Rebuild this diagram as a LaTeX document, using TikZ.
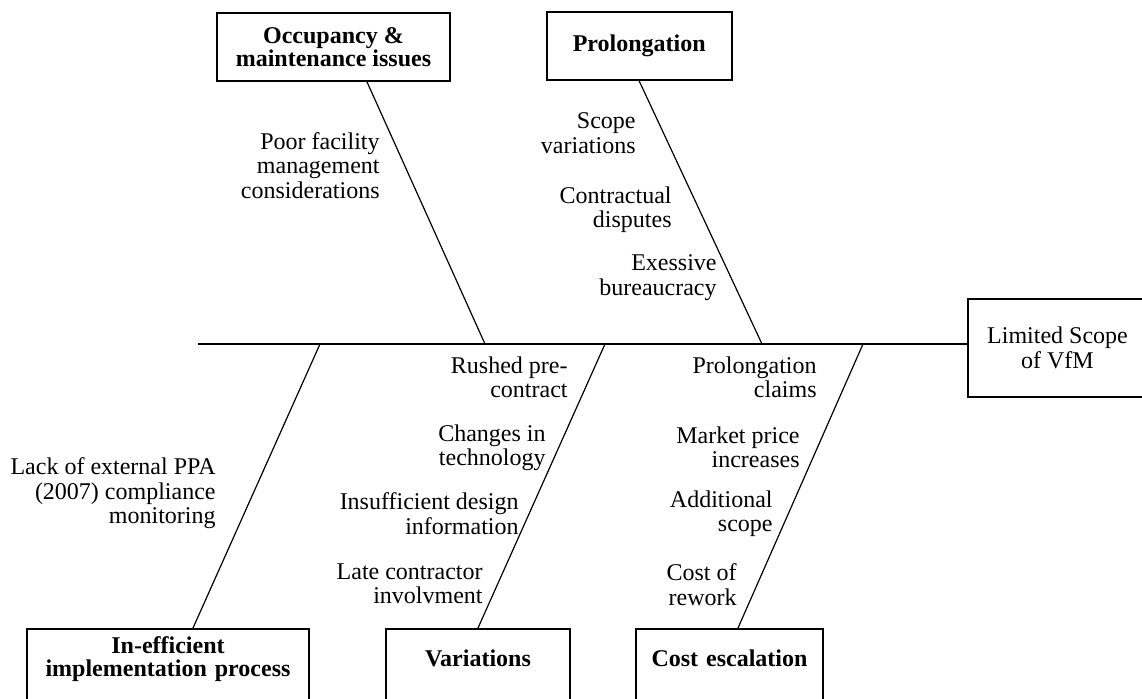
\documentclass[tikz,border=0pt]{standalone}
\usepackage{fontspec}
\setmainfont{Liberation Serif}
\usepackage{tikz}
\tikzset{
    cause-box/.style = {draw=black, fill=white, line width=0.9pt, rectangle, inner sep=0pt, align=center, font=\fontsize{12}{11.5}\selectfont\bfseries},
    bottom-box/.style = {cause-box, anchor=north, text depth=40pt},
    effect-box/.style = {draw=black, fill=white, line width=0.9pt, rectangle, inner sep=0pt, align=center},
    cause-text/.style = {align=right, anchor=east, inner sep=0pt},
    bone/.style = {line width=0.6pt},
}

\begin{document}
\begin{tikzpicture}[x=0.5pt, y=-0.5pt, font=\fontsize{12}{12.2}\selectfont]
\useasboundingbox (0,0) rectangle (1142,698);
\clip (0,0) rectangle (1142,698);

% effect and spine
\node[effect-box, minimum width=89.5pt, minimum height=49pt] (vfm) at (1057.5,348) {Limited Scope\\of VfM};
\coordinate (tail) at (198,344);
\draw[bone] (tail) -- (tail -| vfm.west);

\coordinate (j-occ) at (485,344);
\coordinate (j-prol) at (762,344);
\coordinate (j-ineff) at (320,344);
\coordinate (j-var) at (605,344);
\coordinate (j-cost) at (863,344);

% upper causes
\node[cause-box, minimum width=116.5pt, minimum height=34.2pt] (occ) at (333.5,46.8) {Occupancy \&\\maintenance issues};
\node[cause-box, minimum width=92.5pt, minimum height=34.2pt] (prol) at (639.2,45.9) {Prolongation};
\draw[bone] ([xshift=16.75pt]occ.south) -- (j-occ);
\draw[bone] (prol.south) -- (j-prol);

% lower causes
\node[bottom-box, text width=141pt, text height=12.5pt] (ineff) at (168,628) {In-efficient\\implementation process};
\node[bottom-box, text width=92.25pt, text height=19pt] (var) at (478,628) {Variations};
\node[bottom-box, text width=93.5pt, text height=19pt] (cost) at (729.5,628) {Cost escalation};
\draw[bone] ([xshift=12.5pt]ineff.north) -- (j-ineff);
\draw[bone] (var.north) -- (j-var);
\draw[bone] ([xshift=4.25pt]cost.north) -- (j-cost);

% sub-causes
\node[cause-text] (poor) at (380,165.5) {Poor facility\\management\\considerations};
\node[cause-text] (scope) at (636,133) {Scope\\variations};
\node[cause-text] (disp) at (672,210) {Contractual\\disputes};
\node[cause-text] (bureau) at (717,277.5) {Exessive\\bureaucracy};
\node[cause-text] (lack) at (216,493.5) {Lack of external PPA\\(2007) compliance\\monitoring};
\node[cause-text] (rushed) at (568,377.5) {Rushed pre-\\contract};
\node[cause-text] (tech) at (546,447.5) {Changes in\\technology};
\node[cause-text] (design) at (519,513.5) {Insufficient design\\information};
\node[cause-text] (late) at (483,583.5) {Late contractor\\involvment};
\node[cause-text] (claims) at (817,377.5) {Prolongation\\claims};
\node[cause-text] (market) at (800,447.5) {Market price\\increases};
\node[cause-text] (addl) at (773,513.5) {Additional\\scope};
\node[cause-text] (rework) at (737,584.5) {Cost of\\rework};
\end{tikzpicture}
\end{document}
